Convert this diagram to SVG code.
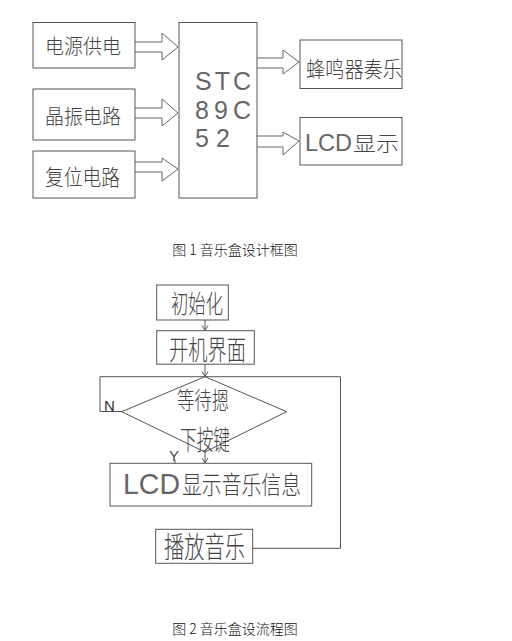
<svg xmlns="http://www.w3.org/2000/svg" width="512" height="641" viewBox="0 0 512 641">
<style>
.box{fill:#fff;stroke:#555;stroke-width:1}
.ln{fill:none;stroke:#555;stroke-width:1}
.ba{fill:#fff;stroke:#666;stroke-width:1}
.cjk{font-family:"Noto Sans CJK SC Light","Noto Sans CJK SC","Noto Sans",sans-serif;font-weight:300;fill:#444}
.lat{font-family:"DejaVu Sans ExtraLight","Liberation Sans","DejaVu Sans",sans-serif;font-weight:200;fill:#666}
.cap{font-family:"Noto Sans CJK SC Light","Noto Sans CJK SC","Liberation Sans",sans-serif;font-weight:300;font-size:14px;fill:#111}
</style>
<defs>
<marker id="ah" markerWidth="8" markerHeight="8" refX="6" refY="4" orient="auto" markerUnits="userSpaceOnUse">
<path d="M1,1 L6,4 L1,7" fill="none" stroke="#555" stroke-width="1"/>
</marker>
</defs>
<rect width="512" height="641" fill="#fff"/>

<g id="connectors">
<polyline class="ba" points="135,42 162,42 162,33 178,47 162,60 162,52 135,52"/>
<polyline class="ba" points="135,108 162,108 162,99 178,113 162,126 162,118 135,118"/>
<polyline class="ba" points="135,162 162,162 162,158 178,169 162,181 162,172 135,172"/>
<polyline class="ba" points="257,58 283,58 283,50 299,62 283,74 283,68 257,68"/>
<polyline class="ba" points="257,136 283,136 283,132 299,141 283,155 283,147 257,147"/>

<line class="ln" x1="205" y1="320" x2="205" y2="330.5" marker-end="url(#ah)"/>
<line class="ln" x1="205" y1="364" x2="205" y2="376.5" marker-end="url(#ah)"/>
<polyline class="ln" points="122,411.5 100,411.5 100,376.7 340.5,376.7 340.5,548.3 252.7,548.3"/>
<line class="ln" x1="205" y1="452" x2="205" y2="463" marker-end="url(#ah)"/>
<line class="ln" x1="175" y1="460" x2="175" y2="463.3"/>
<text class="lat" x="104" y="411" font-size="15" style="fill:#333">N</text>
<text class="lat" x="169" y="461" font-size="15" style="fill:#444">Y</text>
</g>

<g id="n-power">
<rect class="box" x="33" y="22.5" width="102" height="45.5"/>
<text class="cjk" x="45" y="53.6" font-size="20" textLength="76" lengthAdjust="spacingAndGlyphs">电源供电</text>
</g>
<g id="n-crystal">
<rect class="box" x="33" y="89" width="102" height="51"/>
<text class="cjk" x="45" y="123.6" font-size="20" textLength="76" lengthAdjust="spacingAndGlyphs">晶振电路</text>
</g>
<g id="n-reset">
<rect class="box" x="33" y="151" width="102" height="47"/>
<text class="cjk" x="45" y="184.5" font-size="22" textLength="75" lengthAdjust="spacingAndGlyphs">复位电路</text>
</g>
<g id="n-mcu">
<rect class="box" x="179" y="22.5" width="78" height="175.5"/>
<text class="lat" x="195" y="90" font-size="25" textLength="56" lengthAdjust="spacing">STC</text>
<text class="lat" x="195" y="119" font-size="25" textLength="56" lengthAdjust="spacing">89C</text>
<text class="lat" x="195" y="147" font-size="25" textLength="35" lengthAdjust="spacing">52</text>
</g>
<g id="n-buzzer">
<rect class="box" x="300" y="40" width="102" height="48.5"/>
<text class="cjk" x="306" y="76.5" font-size="22" textLength="96" lengthAdjust="spacingAndGlyphs">蜂鸣器奏乐</text>
</g>
<g id="n-lcd">
<rect class="box" x="300" y="117.5" width="102" height="47.5"/>
<text y="151"><tspan class="lat" x="305" font-size="24" textLength="47" lengthAdjust="spacingAndGlyphs">LCD</tspan><tspan class="cjk" x="353" y="150.5" font-size="21" textLength="46" lengthAdjust="spacingAndGlyphs">显示</tspan></text>
</g>
<text class="cap" x="235" y="255" text-anchor="middle">图 1 音乐盒设计框图</text>

<g id="n-init">
<rect class="box" x="156.7" y="285" width="71.6" height="35"/>
<text class="cjk" x="171" y="313" font-size="25" textLength="52" lengthAdjust="spacingAndGlyphs">初始化</text>
</g>
<g id="n-boot">
<rect class="box" x="156.7" y="330.7" width="97.6" height="33.5"/>
<text class="cjk" x="169" y="360" font-size="27" textLength="77" lengthAdjust="spacingAndGlyphs">开机界面</text>
</g>
<g id="n-wait">
<polygon class="ln" points="205,376.7 286.7,411.7 205,452 121.7,411.7"/>
<text class="cjk" x="177" y="408.5" font-size="24" textLength="52" lengthAdjust="spacingAndGlyphs">等待摁</text>
<text class="cjk" x="180" y="450" font-size="27" textLength="50" lengthAdjust="spacingAndGlyphs">下按键</text>
</g>
<g id="n-show">
<rect class="box" x="110" y="463.3" width="201.7" height="42.7"/>
<text y="493.5"><tspan class="lat" x="123" font-size="30" textLength="57" lengthAdjust="spacingAndGlyphs">LCD</tspan><tspan class="cjk" x="182" font-size="25" textLength="119" lengthAdjust="spacingAndGlyphs">显示音乐信息</tspan></text>
</g>
<g id="n-play">
<rect class="box" x="155.7" y="529.3" width="97" height="34"/>
<text class="cjk" x="164" y="558" font-size="29" textLength="81" lengthAdjust="spacingAndGlyphs">播放音乐</text>
</g>
<text class="cap" x="235" y="634" text-anchor="middle">图 2 音乐盒设流程图</text>
</svg>
